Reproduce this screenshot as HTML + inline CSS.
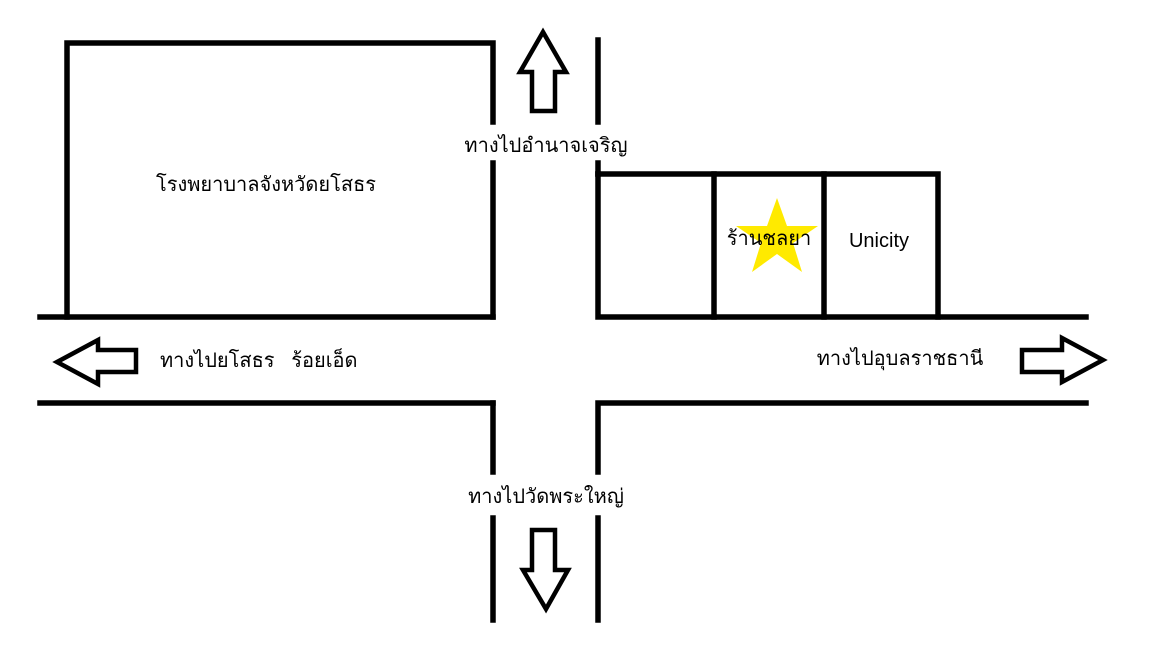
<!DOCTYPE html>
<html><head><meta charset="utf-8"><style>
html,body{margin:0;padding:0;background:#fff;}
svg{display:block;}
text{font-family:"Liberation Sans","DejaVu Sans",sans-serif;font-size:20px;fill:#000;}
</style></head><body>
<svg width="1152" height="648" viewBox="0 0 1152 648" xmlns="http://www.w3.org/2000/svg">
<rect width="1152" height="648" fill="#fff"/>
<g stroke="#000" stroke-width="5.5" fill="none" stroke-linecap="square">
<polyline points="493,122 493,43 67,43 67,317"/>
<line x1="493" y1="163" x2="493" y2="317"/>
<line x1="40" y1="317" x2="493" y2="317"/>
<line x1="40" y1="403" x2="493" y2="403"/>
<line x1="493" y1="403" x2="493" y2="472"/>
<line x1="493" y1="518" x2="493" y2="620"/>
<line x1="598" y1="40" x2="598" y2="122"/>
<line x1="598" y1="163" x2="598" y2="174"/>
<polyline points="598,174 598,317 1086,317"/>
<polyline points="598,174 938,174 938,317"/>
<line x1="714" y1="174" x2="714" y2="317"/>
<line x1="824" y1="174" x2="824" y2="317"/>
<polyline points="598,472 598,403 1086,403"/>
<line x1="598" y1="518" x2="598" y2="620"/>
</g>
<polygon points="777,198 787,226 818,226 793,243 802,272 777,254 752,272 761,243 736,226 767,226" fill="#ffea00"/>
<g stroke="#000" stroke-width="4.5" fill="none" stroke-linejoin="miter">
<polygon points="543,32 566,72 555,72 555,111 532,111 532,72 520,72"/>
<polygon points="532,530 555,530 555,570 568,570 546,609 523,570 532,570"/>
<polygon points="57,362 98,340 98,350 136,350 136,372 98,372 98,384"/>
<polygon points="1022,350 1062,350 1062,338 1103,360 1062,382 1062,372 1022,372"/>
</g>
<text x="266" y="191" text-anchor="middle">โรงพยาบาลจังหวัดยโสธร</text>
<text x="546" y="152" text-anchor="middle">ทางไปอำนาจเจริญ</text>
<text x="160" y="367" xml:space="preserve">ทางไปยโสธร   ร้อยเอ็ด</text>
<text x="900" y="365" text-anchor="middle">ทางไปอุบลราชธานี</text>
<text x="769" y="245" text-anchor="middle">ร้านชลยา</text>
<text x="879" y="247" text-anchor="middle">Unicity</text>
<text x="546" y="503" text-anchor="middle">ทางไปวัดพระใหญ่</text>
</svg>
</body></html>
